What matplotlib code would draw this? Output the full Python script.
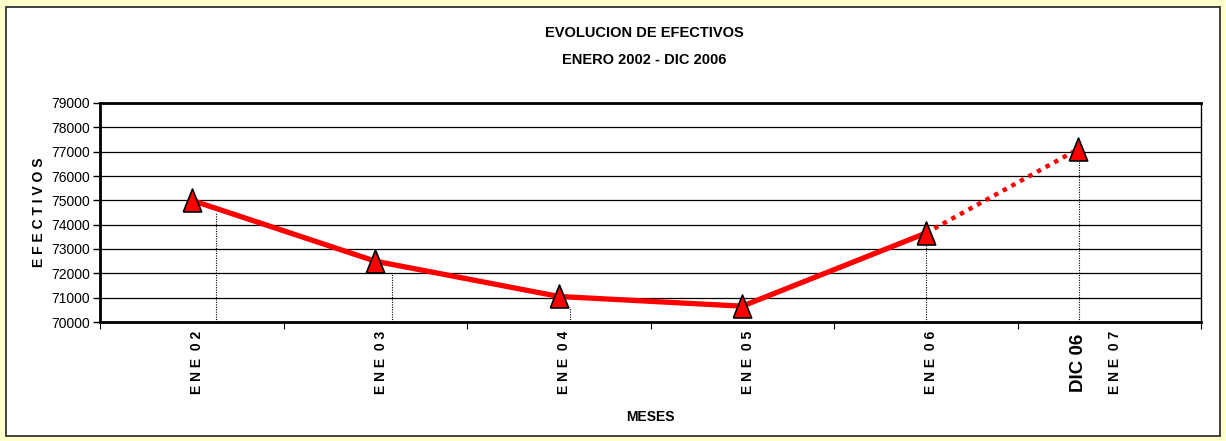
import matplotlib
matplotlib.use("Agg")
import matplotlib.pyplot as plt
from matplotlib import font_manager
from matplotlib.patches import Rectangle
import matplotlib.transforms as mtransforms

names = {f.name for f in font_manager.fontManager.ttflist}
NARROW = 'Liberation Sans Narrow' if 'Liberation Sans Narrow' in names else 'Liberation Sans'
REG = 'Liberation Sans'

# ---- data ----
categories = ["E N E  0 2", "E N E  0 3", "E N E  0 4", "E N E  0 5", "E N E  0 6", "E N E  0 7"]
extra_label = "DIC 06"
point_x = [0.5, 1.5, 2.5, 3.5, 4.5, 5.33]
effectives = [75000, 72500, 71050, 70650, 73650, 77100]
drop_x = [0.63, 1.59, 2.56, 3.53, 4.5, 5.335]
drop_top = [74500, 72000, 70600, 70100, 73600, 76800]
yticks = [70000, 71000, 72000, 73000, 74000, 75000, 76000, 77000, 78000, 79000]

W, H = 1226, 441
fig = plt.figure(figsize=(W / 100, H / 100), dpi=100)
fig.patch.set_facecolor('#FFFFCC')
bg = Rectangle((6 / W, 5 / H), (1220 - 6) / W, (434 - 5) / H,
               transform=fig.transFigure, facecolor='white',
               edgecolor='#333333', linewidth=1.3, zorder=-5)
fig.add_artist(bg)

ax = fig.add_axes([100 / W, 1 - 322 / H, (1201 - 100) / W, (322 - 103) / H])
ax.set_zorder(1)
ax.set_facecolor('white')
ax.set_xlim(0, 6)
ax.set_ylim(70000, 79000)
ax.set_yticks(yticks)
ax.set_yticklabels([str(v) for v in yticks], fontsize=10, family=REG)
ax.set_xticks(range(7))
ax.set_xticklabels([])
ax.tick_params(axis='y', direction='out', length=5, width=1, pad=2)
ax.tick_params(axis='x', direction='out', length=5, width=0.8)
ax.yaxis.grid(True, color='black', linewidth=0.9)
ax.set_axisbelow(True)
for s in ['left', 'bottom', 'top']:
    ax.spines[s].set_linewidth(2)
ax.spines['right'].set_linewidth(1)

# drop lines
for x, t in zip(drop_x, drop_top):
    ax.plot([x, x], [70000, t], color='black', linewidth=0.8,
            linestyle=(0, (1, 1.2)), zorder=2)

# main line
ax.plot(point_x[:5], effectives[:5], color='#FF0000', linewidth=3.8,
        solid_capstyle='butt', zorder=3)
ax.plot(point_x[4:], effectives[4:], color='#FF0000', linewidth=3.2,
        linestyle=(0, (1, 1.2)), zorder=3)
tri = [(-0.4, -0.5), (0.4, -0.5), (0.0, 0.5), (-0.4, -0.5)]
ax.plot(point_x, effectives, linestyle='none', marker=tri, markersize=16.5,
        markerfacecolor='#FF0000', markeredgecolor='black',
        markeredgewidth=1.2, zorder=4)

# category labels
trans = mtransforms.blended_transform_factory(ax.transData, ax.transAxes)
for i, lab in enumerate(categories):
    ax.text(i + 0.53, -0.04, lab, rotation=90, ha='center', va='top',
            transform=trans, fontsize=10, fontweight='bold', family=REG)
ax.text(point_x[-1], -0.055, extra_label, rotation=90, ha='center', va='top',
        transform=trans, fontsize=13.5, fontweight='bold', family=NARROW)

ax.set_ylabel("E F E C T I V O S", fontsize=10, fontweight='bold', family=REG)
ax.yaxis.set_label_coords(-54 / 1101, 0.5)

fig.text(650 / W, 1 - 417 / H, "MESES", ha='center', va='center',
         fontsize=10, fontweight='bold', family=NARROW)
fig.text(644 / W, 1 - 33 / H, "EVOLUCION DE EFECTIVOS", ha='center', va='center',
         fontsize=10.5, fontweight='bold', family=NARROW)
fig.text(644 / W, 1 - 60 / H, "ENERO 2002 - DIC 2006", ha='center', va='center',
         fontsize=10.5, fontweight='bold', family=NARROW)

fig.savefig('out.png', dpi=100, facecolor=fig.get_facecolor())
